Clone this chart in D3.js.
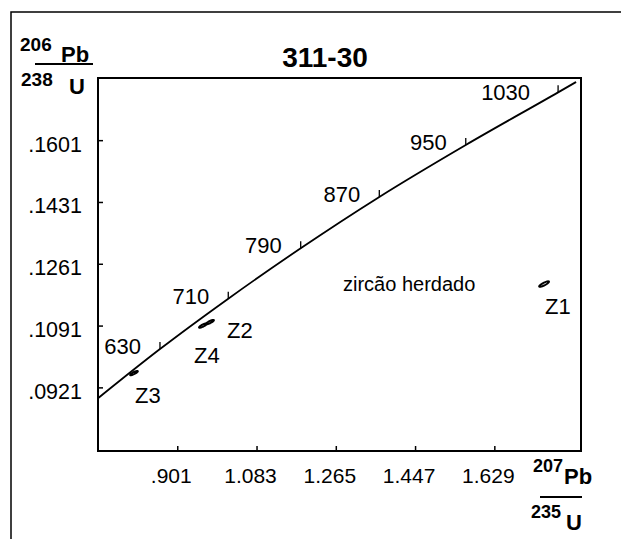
<!DOCTYPE html>
<html>
<head>
<meta charset="utf-8">
<script src="https://cdn.jsdelivr.net/npm/d3@7"></script>
<style>
  body { margin: 0; background: #fff; }
  text { font-family: "Liberation Sans", Arial, sans-serif; fill: #000; }
</style>
</head>
<body>
<div id="chart-area"></div>
<script>
// concordia 206Pb/238U vs 207Pb/235U, amostra 311-30

// eixos
const xTicks = [0.901, 1.083, 1.265, 1.447, 1.629];
const xTickLabels = [".901", "1.083", "1.265", "1.447", "1.629"];
const yTicks = [0.0921, 0.1091, 0.1261, 0.1431, 0.1601];
const yTickLabels = [".0921", ".1091", ".1261", ".1431", ".1601"];

// curva concordia (idade em Ma, razoes)
const concAges = [550, 630, 710, 790, 870, 950, 1030, 1046];
const concX = [0.719, 0.8613, 1.0181, 1.1844, 1.3649, 1.5634, 1.7754, 1.8167];
const concY = [0.0891, 0.10264, 0.11650, 0.13037, 0.14449, 0.15878, 0.17325, 0.1761];
const concLabelAges = [630, 710, 790, 870, 950, 1030];

// zircoes (centro, erro, correlacao)
const zNames = ["Z1", "Z2", "Z3", "Z4"];
const zX = [1.7432, 0.9761, 0.8016, 0.9600];
const zY = [0.12052, 0.11006, 0.09603, 0.10910];
const zSx = [0.0112, 0.0090, 0.0088, 0.0090];
const zSy = [0.00075, 0.00060, 0.00058, 0.00060];
const zRho = [0.85, 0.85, 0.85, 0.85];

let svg = d3.select("#chart-area").append("svg")
    .attr("width", 621)
    .attr("height", 539);

// moldura externa
svg.append("rect")
    .attr("x", 11).attr("y", 12)
    .attr("width", 700).attr("height", 600)
    .attr("fill", "none").attr("stroke", "#000").attr("stroke-width", 1.5);

let x = d3.scaleLinear().domain([0.719, 1.828]).range([98, 581]);
let y = d3.scaleLinear().domain([0.0746, 0.1772]).range([451, 78]);

// eixos com ticks para dentro
svg.append("g")
    .attr("transform", "translate(0,451)")
    .call(d3.axisBottom(x).tickValues(xTicks).tickSizeInner(-5).tickSizeOuter(0).tickFormat(""))
    .call(g => g.select(".domain").remove())
    .selectAll("line").attr("stroke-width", 1.5);

svg.append("g")
    .attr("transform", "translate(98,0)")
    .call(d3.axisLeft(y).tickValues(yTicks).tickSizeInner(-5).tickSizeOuter(0).tickFormat(""))
    .call(g => g.select(".domain").remove())
    .selectAll("line").attr("stroke-width", 1.5);

svg.append("rect")
    .attr("x", 98).attr("y", 78)
    .attr("width", 483).attr("height", 373)
    .attr("fill", "none").attr("stroke", "#000").attr("stroke-width", 2);

svg.selectAll(".xlab").data(xTicks).enter()
    .append("text")
    .attr("x", d => x(d) - 6)
    .attr("y", 483)
    .attr("text-anchor", "middle")
    .attr("font-size", 21)
    .text((d, i) => xTickLabels[i]);

svg.selectAll(".ylab").data(yTicks).enter()
    .append("text")
    .attr("x", 82)
    .attr("y", d => y(d) + 11.5)
    .attr("text-anchor", "end")
    .attr("font-size", 21.5)
    .text((d, i) => yTickLabels[i]);

// concordia
let conc = concAges.map((a, i) => ({age: a, x: concX[i], y: concY[i]}));
let line = d3.line().x(d => x(d.x)).y(d => y(d.y)).curve(d3.curveMonotoneX);
svg.append("path")
    .datum(conc)
    .attr("d", line)
    .attr("fill", "none")
    .attr("stroke", "#000")
    .attr("stroke-width", 1.8);

let marks = conc.filter(d => concLabelAges.includes(d.age));
svg.selectAll(".cTick").data(marks).enter()
    .append("line")
    .attr("x1", d => x(d.x)).attr("x2", d => x(d.x))
    .attr("y1", d => y(d.y)).attr("y2", d => y(d.y) - 7)
    .attr("stroke", "#000").attr("stroke-width", 1.3);

// 1030 fica um pouco mais afastado da marca
svg.selectAll(".cLab").data(marks).enter()
    .append("text")
    .attr("x", d => x(d.x) - (d.age === 1030 ? 28 : 19))
    .attr("y", d => y(d.y) + (d.age === 1030 ? 8 : 5))
    .attr("text-anchor", "end")
    .attr("font-size", 22)
    .text(d => d.age);

// elipses de erro
let zircons = zNames.map((n, i) => ({name: n, x: zX[i], y: zY[i], sx: zSx[i], sy: zSy[i], rho: zRho[i]}));
let ell = d3.line().x(p => x(p[0])).y(p => y(p[1])).curve(d3.curveLinearClosed);
svg.selectAll(".ell").data(zircons).enter()
    .append("path")
    .attr("d", d => ell(d3.range(0, 2 * Math.PI, Math.PI / 24).map(t => [
        d.x + d.sx * Math.cos(t),
        d.y + d.sy * (d.rho * Math.cos(t) + Math.sqrt(1 - d.rho * d.rho) * Math.sin(t))
    ])))
    .attr("fill", "none")
    .attr("stroke", "#000")
    .attr("stroke-width", 2);

// rotulos dos zircoes
let zLabOff = {Z1: [1, 30], Z2: [17, 16], Z3: [1, 30], Z4: [-9, 37]};
svg.selectAll(".zLab").data(zircons).enter()
    .append("text")
    .attr("x", d => x(d.x) + zLabOff[d.name][0])
    .attr("y", d => y(d.y) + zLabOff[d.name][1])
    .attr("font-size", 22)
    .text(d => d.name);

svg.append("text")
    .attr("x", 343).attr("y", 291)
    .attr("font-size", 20)
    .text("zircão herdado");

// titulo
svg.append("text")
    .attr("x", 325).attr("y", 67)
    .attr("text-anchor", "middle")
    .attr("font-size", 28)
    .attr("font-weight", "bold")
    .text("311-30");

// rotulo eixo y: 206Pb/238U
let yl = svg.append("g");
yl.append("text").attr("x", 20).attr("y", 51).attr("font-size", 19).attr("font-weight", "bold").text("206");
yl.append("text").attr("x", 61).attr("y", 62).attr("font-size", 22).attr("font-weight", "bold").text("Pb");
yl.append("line").attr("x1", 35).attr("x2", 93).attr("y1", 64).attr("y2", 64).attr("stroke", "#000").attr("stroke-width", 2);
yl.append("text").attr("x", 21).attr("y", 86).attr("font-size", 19).attr("font-weight", "bold").text("238");
yl.append("text").attr("x", 69).attr("y", 94).attr("font-size", 22).attr("font-weight", "bold").text("U");

// rotulo eixo x: 207Pb/235U
let xl = svg.append("g");
xl.append("text").attr("x", 533).attr("y", 472).attr("font-size", 18).attr("font-weight", "bold").text("207");
xl.append("text").attr("x", 564).attr("y", 484).attr("font-size", 22).attr("font-weight", "bold").text("Pb");
xl.append("line").attr("x1", 540).attr("x2", 582).attr("y1", 497).attr("y2", 497).attr("stroke", "#000").attr("stroke-width", 2);
xl.append("text").attr("x", 531).attr("y", 518).attr("font-size", 18).attr("font-weight", "bold").text("235");
xl.append("text").attr("x", 566).attr("y", 530).attr("font-size", 22).attr("font-weight", "bold").text("U");
</script>
</body>
</html>
